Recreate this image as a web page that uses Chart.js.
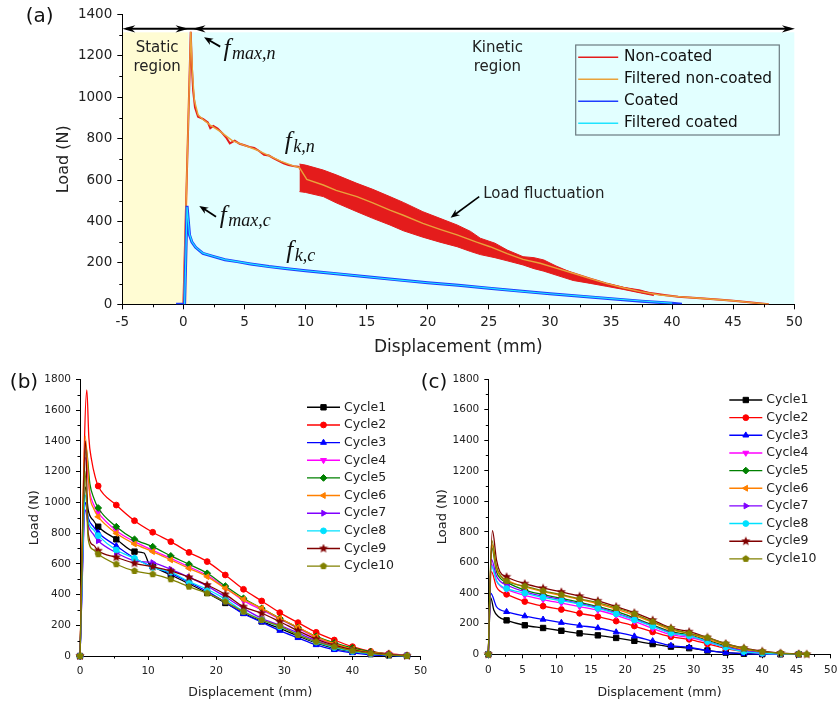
<!DOCTYPE html>
<html><head><meta charset="utf-8">
<script src="https://cdn.jsdelivr.net/npm/chart.js@4.4.1/dist/chart.umd.min.js"></script>
<style>
html,body{margin:0;padding:0;background:#fff;overflow:hidden;width:837px;height:704px;position:relative;}
canvas{position:absolute;}
#ca{left:0;top:0;} #cb{left:0;top:340px;} #cc{left:420px;top:340px;}
</style></head><body>
<canvas id="ca" width="837" height="362"></canvas>
<canvas id="cb" width="432" height="364"></canvas>
<canvas id="cc" width="430" height="364"></canvas>
<script>
// ================= DATA =================
// ---- Panel (a) ----
const aXTicks = [-5, 0, 5, 10, 15, 20, 25, 30, 35, 40, 45, 50];
const aYTicks = [0, 200, 400, 600, 800, 1000, 1200, 1400];
const aLegendLabels = ['Non-coated', 'Filtered non-coated', 'Coated', 'Filtered coated'];

const aNonCoatedX = [0, 0.6, 0.7, 0.8, 0.95, 1.2, 1.6, 2.0, 2.2, 2.45, 2.8, 3.2, 3.5, 3.8, 4.2, 4.6, 5.0, 5.4, 5.8, 6.2, 6.6, 7.0, 7.4, 7.8, 8.2, 8.6, 9.0, 9.4, 9.5, 10.1, 11.45, 12.5, 14.2, 15.5, 16.9, 18, 19.6, 21, 22.4, 24, 25.1, 26.5, 27.8, 29.2, 30.5, 31.9, 33.3, 34.6, 36, 37.4, 38.5, 39.5, 40.5, 42.3, 44, 45, 46.5, 47.9];
const aNonCoatedY = [0, 1316, 1140, 1030, 950, 905, 895, 878, 850, 861, 848, 825, 805, 777, 790, 775, 768, 760, 755, 740, 722, 718, 705, 692, 681, 672, 667, 664, 660, 603, 576, 550, 520, 490, 455, 430, 391, 362, 335, 300, 278, 245, 217, 198, 175, 150, 124, 101, 80, 61, 52, 44, 37, 29, 22, 17, 9, 0];

const aFilteredNonCoatedX = [0, 0.6, 0.75, 0.9, 1.2, 1.6, 2.2, 3.0, 4.0, 5.0, 6.0, 7.0, 8.0, 9.0, 9.5, 10.1, 11.45, 12.5, 14.2, 15.5, 16.9, 18, 19.6, 21, 22.4, 24, 25.1, 26.5, 27.8, 29.2, 30.5, 31.9, 33.3, 34.6, 36, 37.4, 39, 40.5, 42.3, 45, 46.5, 47.9];
const aFilteredNonCoatedY = [0, 1316, 1110, 985, 915, 892, 865, 835, 790, 767, 745, 718, 690, 668, 660, 603, 576, 550, 520, 490, 455, 430, 391, 362, 335, 300, 278, 245, 217, 198, 175, 150, 124, 101, 80, 61, 45, 37, 29, 17, 8, 0];

// load fluctuation envelope of the non-coated signal
const aBandX = [9.5, 10, 11.45, 12.5, 14.2, 15.5, 16.9, 18, 19.6, 21, 22.4, 23.5, 24.3, 25.5, 26.5, 27.8, 28.7, 29.5, 30.5, 31.9, 33.3, 34.6, 36, 37.4, 38.5];
const aBandUpper = [677, 672, 648, 625, 584, 555, 520, 492, 447, 415, 383, 352, 319, 295, 262, 230, 225, 214, 185, 150, 122, 101, 82, 69, 50];
const aBandLower = [544, 540, 520, 490, 447, 415, 383, 355, 324, 300, 278, 255, 240, 225, 210, 190, 172, 160, 141, 115, 101, 87, 72, 55, 42];

const aCoatedX = [-0.6, 0.1, 0.3, 0.5, 0.7, 1.0, 1.6, 2.5, 3.4, 4.4, 5.5, 7, 8.5, 10, 12.5, 15, 17.5, 20, 22.5, 25, 27.5, 30, 32.5, 35, 37.5, 40, 40.8];
const aCoatedY = [0, 0, 475, 335, 300, 275, 246, 230, 215, 206, 195, 182, 172, 162, 148, 133, 118, 104, 92, 78, 64, 51, 39, 27, 15, 5, 0];

const aFilteredCoatedX = [0.1, 0.3, 0.5, 0.7, 1.0, 1.6, 2.5, 3.4, 4.4, 5.5, 7, 8.5, 10, 12.5, 15, 17.5, 20, 22.5, 25, 27.5, 30, 32.5, 35, 37.5, 40];
const aFilteredCoatedY = [0, 470, 338, 302, 276, 247, 231, 216, 206, 195, 182, 172, 162, 148, 133, 118, 104, 92, 78, 64, 51, 39, 27, 16, 6];

// ---- Panels (b) and (c) ----
const cycleNames = ['Cycle1', 'Cycle2', 'Cycle3', 'Cycle4', 'Cycle5', 'Cycle6', 'Cycle7', 'Cycle8', 'Cycle9', 'Cycle10'];
const loadTicks = [0, 200, 400, 600, 800, 1000, 1200, 1400, 1600, 1800];
const bXTicks = [0, 10, 20, 30, 40, 50];
const cXTicks = [0, 5, 10, 15, 20, 25, 30, 35, 40, 45, 50];

// displacement of the plotted markers
const bGridX = [0, 2.67, 5.33, 8, 10.67, 13.33, 16, 18.67, 21.33, 24, 26.67, 29.33, 32, 34.67, 37.33, 40, 42.67, 45.33, 48];
const cGridX = [0, 2.67, 5.33, 8, 10.67, 13.33, 16, 18.67, 21.33, 24, 26.67, 29.33, 32, 34.67, 37.33, 40, 42.67, 45.33, 46.5];

// (b) non-coated cycles: loads at the marker positions
const bCycle1 = [0, 841, 759, 679, 585, 527, 470, 410, 345, 280, 225, 180, 130, 85, 50, 28, 12, 5, 1];
const bCycle2 = [0, 1106, 982, 880, 805, 744, 674, 614, 527, 434, 358, 282, 217, 154, 104, 61, 30, 15, 4];
const bCycle3 = [0, 802, 716, 636, 581, 538, 480, 420, 350, 275, 220, 165, 118, 72, 40, 20, 8, 3, 0];
const bCycle4 = [0, 932, 815, 744, 688, 635, 580, 525, 445, 360, 300, 240, 180, 120, 78, 45, 25, 12, 2];
const bCycle5 = [0, 963, 841, 759, 711, 651, 597, 538, 455, 375, 310, 245, 185, 128, 85, 52, 28, 12, 3];
const bCycle6 = [0, 906, 798, 729, 679, 625, 570, 516, 440, 369, 310, 245, 187, 125, 80, 45, 25, 12, 2];
const bCycle7 = [0, 750, 672, 620, 607, 564, 512, 455, 385, 310, 245, 200, 150, 100, 62, 35, 18, 8, 2];
const bCycle8 = [0, 783, 690, 636, 576, 545, 484, 434, 370, 290, 235, 190, 140, 90, 55, 30, 15, 6, 1];
const bCycle9 = [0, 685, 642, 603, 581, 553, 512, 462, 401, 321, 278, 223, 165, 110, 70, 40, 20, 10, 1];
const bCycle10 = [0, 662, 597, 553, 532, 499, 451, 408, 354, 288, 234, 195, 137, 93, 61, 35, 17, 7, 0];
// (b) extra readings between markers (peak and fast drop) [displacement, load]
const bExtra1 = [[0.8, 1100], [1.2, 950], [2.0, 880], [9.4, 670], [10.1, 603]];
const bExtra2 = [[1.0, 1731], [1.3, 1420], [1.7, 1275], [2.2, 1170]];
const bExtra3 = [[0.8, 1000], [1.2, 900], [2.0, 840]];
const bExtra4 = [[0.8, 1290], [1.45, 1060], [2.0, 985]];
const bExtra5 = [[0.87, 1360], [1.45, 1120], [2.0, 1030]];
const bExtra6 = [[0.75, 1430], [1.45, 1040], [2.0, 960]];
const bExtra7 = [[0.8, 950], [1.2, 850], [2.0, 790]];
const bExtra8 = [[0.8, 1050], [1.2, 880], [2.0, 820]];
const bExtra9 = [[0.8, 1400], [1.2, 800], [2.0, 720]];
const bExtra10 = [[0.75, 1200], [1.2, 760], [2.0, 690]];

// (c) coated cycles
const cCycle1 = [0, 222, 190, 172, 154, 137, 124, 107, 88, 67, 50, 40, 25, 11, 4, 1, 0, 0, null];
const cCycle2 = [0, 392, 345, 315, 293, 268, 246, 217, 185, 146, 115, 98, 68, 39, 17, 7, 2, 0, null];
const cCycle3 = [0, 278, 250, 228, 207, 188, 172, 145, 118, 87, 57, 46, 24, 11, 4, 1, 0, 0, null];
const cCycle4 = [0, 425, 385, 358, 335, 312, 288, 255, 215, 170, 128, 110, 80, 45, 20, 8, 3, 1, null];
const cCycle5 = [0, 470, 420, 390, 365, 340, 312, 280, 238, 192, 148, 128, 92, 56, 28, 12, 5, 1, null];
const cCycle6 = [0, 485, 440, 410, 385, 358, 330, 295, 255, 208, 160, 136, 100, 62, 32, 15, 6, 2, null];
const cCycle7 = [0, 453, 408, 380, 358, 332, 305, 270, 230, 185, 140, 120, 85, 48, 22, 10, 4, 1, null];
const cCycle8 = [0, 430, 400, 372, 350, 327, 300, 265, 225, 183, 138, 120, 83, 46, 17, 7, 3, 1, null];
const cCycle9 = [0, 507, 462, 432, 408, 380, 350, 312, 272, 224, 172, 148, 110, 70, 40, 20, 8, 3, 0];
const cCycle10 = [0, 479, 445, 415, 390, 362, 338, 303, 265, 213, 168, 137, 109, 68, 39, 17, 7, 2, 0];
const cExtra1 = [[0.35, 370], [0.8, 290], [1.5, 245]];
const cExtra2 = [[0.45, 540], [1.2, 440], [1.8, 410]];
const cExtra3 = [[0.35, 400], [1.2, 311], [1.8, 290]];
const cExtra4 = [[0.45, 590], [1.2, 480], [1.8, 445]];
const cExtra5 = [[0.5, 700], [1.2, 540], [1.8, 495]];
const cExtra6 = [[0.5, 720], [1.2, 560], [1.8, 510]];
const cExtra7 = [[0.45, 620], [1.2, 510], [1.8, 475]];
const cExtra8 = [[0.45, 580], [1.2, 480], [1.8, 450]];
const cExtra9 = [[0.6, 808], [1.2, 616], [1.7, 540]];
const cExtra10 = [[0.5, 747], [1.2, 575], [1.8, 515]];

// ================= STYLE =================
const SANS = '"DejaVu Sans", Verdana, sans-serif';
const SERIF = '"Liberation Serif", "Times New Roman", serif';
const RED = '#E41C1C', ORANGE = '#E9A23B', BLUE = '#1E3CFF', CYAN = '#1EE4FF';
const YELLOW_BG = '#FFFCD3', CYAN_BG = '#E2FFFF';
const cycleColors = ['#000000', '#FF0000', '#0000FF', '#FF00FF', '#008000', '#FF8000', '#8000FF', '#00E1FF', '#800000', '#808000'];

Chart.defaults.font.family = SANS;
Chart.defaults.color = '#222';

function polyMarker(color, n, star, R) {
  const c = document.createElement('canvas');
  c.width = c.height = 10;
  const g = c.getContext('2d');
  g.fillStyle = color;
  g.beginPath();
  const k = star ? n * 2 : n;
  for (let j = 0; j < k; j++) {
    const rad = (star && j % 2) ? R * 0.45 : R;
    const a = -Math.PI / 2 + j * Math.PI * 2 / k;
    g.lineTo(5 + rad * Math.cos(a), 5 + rad * Math.sin(a));
  }
  g.closePath();
  g.fill();
  return c;
}
const STAR = polyMarker(cycleColors[8], 5, true, 4.8);
const PENT = polyMarker(cycleColors[9], 5, false, 3.7);
const cycleStyles = ['rect', 'circle', 'triangle', 'triangle', 'rectRot', 'triangle', 'triangle', 'circle', STAR, PENT];
const cycleRot = [0, 0, 0, 180, 0, 270, 90, 0, 0, 0];
const cycleRadius = [3.8, 2.9, 3.4, 3.4, 3.4, 3.4, 3.4, 2.9, 3, 3];

const mids = arr => arr.slice(1).map((v, i) => (v + arr[i]) / 2);
const xy = (xs, ys) => xs.map((v, i) => ({x: v, y: ys[i]}));

function buildCycle(grid, vals, extra) {
  const pts = grid.map((gx, i) => ({x: gx, y: vals[i], m: vals[i] !== null}));
  extra.forEach(p => pts.push({x: p[0], y: p[1], m: false}));
  pts.sort((a, b) => a.x - b.x);
  return pts;
}

function arrowHead(ctx, tx, ty, fx, fy, len, half) {
  const dx = tx - fx, dy = ty - fy, d = Math.hypot(dx, dy) || 1;
  const ux = dx / d, uy = dy / d, px = -uy, py = ux;
  const bx = tx - ux * len, by = ty - uy * len;
  ctx.beginPath();
  ctx.moveTo(tx, ty);
  ctx.lineTo(bx + px * half, by + py * half);
  ctx.lineTo(tx - ux * len * 0.7, ty - uy * len * 0.7);
  ctx.lineTo(bx - px * half, by - py * half);
  ctx.closePath();
  ctx.fill();
}
function arrow(ctx, fx, fy, tx, ty, len, half, lw) {
  const d = Math.hypot(tx - fx, ty - fy);
  const ex = tx - (tx - fx) / d * len * 0.6, ey = ty - (ty - fy) / d * len * 0.6;
  ctx.lineWidth = lw;
  ctx.beginPath(); ctx.moveTo(fx, fy); ctx.lineTo(ex, ey); ctx.stroke();
  arrowHead(ctx, tx, ty, fx, fy, len, half);
}

function minorTicks(chart, xMinor, yMinor, len) {
  const {ctx, scales: {x, y}} = chart;
  ctx.save();
  ctx.strokeStyle = '#000'; ctx.lineWidth = 1;
  ctx.beginPath();
  xMinor.forEach(v => { const p = Math.round(x.getPixelForValue(v)) + 0.5; ctx.moveTo(p, y.bottom); ctx.lineTo(p, y.bottom + len); });
  yMinor.forEach(v => { const p = Math.round(y.getPixelForValue(v)) + 0.5; ctx.moveTo(x.left - len, p); ctx.lineTo(x.left, p); });
  ctx.stroke();
  ctx.restore();
}

function panelLabel(ctx, text, cx, cy) {
  ctx.save();
  ctx.font = '20px ' + SANS; ctx.fillStyle = '#111';
  ctx.textAlign = 'center'; ctx.textBaseline = 'middle';
  ctx.fillText(text, cx, cy);
  ctx.restore();
}

function fLabel(ctx, px, py, sub) {
  ctx.save();
  ctx.fillStyle = '#111'; ctx.textAlign = 'left'; ctx.textBaseline = 'alphabetic';
  ctx.font = 'italic 25px ' + SERIF; ctx.fillText('f', px + 1.5, py);
  ctx.font = 'italic 18px ' + SERIF; ctx.fillText(sub, px + 10, py + 3);
  ctx.restore();
}

function axisCfg(ticksArr, min, max, size, pad, tl, fit, title, tFont, tPad) {
  return {
    type: 'linear', min: min, max: max,
    afterBuildTicks: s => { s.ticks = ticksArr.map(v => ({value: v})); },
    ticks: {font: {size: size}, color: '#222', padding: pad, autoSkip: false, maxRotation: 0, minRotation: 0, callback: v => String(v)},
    grid: {display: true, drawOnChartArea: false, drawTicks: true, tickLength: tl, color: '#000', tickColor: '#000', lineWidth: 1},
    border: {display: true, color: '#000', width: 1},
    title: {display: true, text: title, font: {size: tFont}, color: '#222', padding: tPad},
    afterFit: fit
  };
}

// ================= PANEL (a) =================
const panelAPlugin = {
  id: 'panelA',
  beforeDraw(chart) {
    const {ctx, scales: {x, y}} = chart;
    const top = y.getPixelForValue(1313), bot = y.getPixelForValue(0);
    const x0 = x.getPixelForValue(-5), xm = x.getPixelForValue(0.42), x1 = x.getPixelForValue(50);
    ctx.save();
    ctx.fillStyle = YELLOW_BG; ctx.fillRect(x0, top, xm - x0, bot - top);
    ctx.fillStyle = CYAN_BG; ctx.fillRect(xm, top, x1 - xm, bot - top);
    ctx.restore();
  },
  afterDraw(chart) {
    const {ctx, scales: {x, y}, chartArea: ca} = chart;
    const X = v => x.getPixelForValue(v), Y = v => y.getPixelForValue(v);
    minorTicks(chart, mids(aXTicks), mids(aYTicks), 3);
    ctx.save();
    ctx.strokeStyle = '#000'; ctx.fillStyle = '#000';
    // region arrows
    const ay = Y(1330);
    ctx.lineWidth = 2;
    ctx.beginPath(); ctx.moveTo(X(-5) + 4, ay); ctx.lineTo(X(50) - 4, ay); ctx.stroke();
    arrowHead(ctx, X(-5), ay, X(0), ay, 13, 3.6);
    arrowHead(ctx, X(0.42), ay, X(-5), ay, 13, 3.6);
    arrowHead(ctx, X(0.75), ay, X(50), ay, 13, 3.6);
    arrowHead(ctx, X(50.05), ay, X(0), ay, 13, 3.6);
    // annotation arrows
    arrow(ctx, X(3.01), Y(1244), X(1.69), Y(1289), 9, 3.6, 1.8);
    arrow(ctx, X(2.67), Y(423), X(1.30), Y(475), 9, 3.6, 1.8);
    arrow(ctx, X(24.21), Y(520), X(21.87), Y(418), 9, 3.6, 1.6);
    // region texts
    ctx.fillStyle = '#222'; ctx.font = '15px ' + SANS;
    ctx.textAlign = 'center'; ctx.textBaseline = 'middle';
    ctx.fillText('Static', X(-2.15), Y(1239));
    ctx.fillText('region', X(-2.15), Y(1147));
    ctx.fillText('Kinetic', X(25.7), Y(1239));
    ctx.fillText('region', X(25.7), Y(1147));
    ctx.textAlign = 'left';
    ctx.fillText('Load fluctuation', X(24.54), Y(531));
    ctx.restore();
    // force labels
    fLabel(ctx, X(3.16), Y(1199), 'max,n');
    fLabel(ctx, X(2.86), Y(394), 'max,c');
    fLabel(ctx, X(8.18), Y(748), 'k,n');
    fLabel(ctx, X(8.3), Y(225), 'k,c');
    // legend
    ctx.save();
    const bx = ca.right - 218.6, by = ca.top + 30.7;
    ctx.strokeStyle = '#6B7B80'; ctx.lineWidth = 1.2;
    ctx.strokeRect(bx, by, 203.6, 90);
    const cols = [RED, ORANGE, BLUE, CYAN];
    aLegendLabels.forEach((t, i) => {
      const ry = by + 12.3 + 22 * i;
      ctx.strokeStyle = cols[i]; ctx.lineWidth = 1.6;
      ctx.beginPath(); ctx.moveTo(bx + 2.5, ry); ctx.lineTo(bx + 42.5, ry); ctx.stroke();
      ctx.fillStyle = '#111'; ctx.font = '15.3px ' + SANS;
      ctx.textAlign = 'left'; ctx.textBaseline = 'middle';
      ctx.fillText(t, bx + 48.3, ry);
    });
    ctx.restore();
    panelLabel(ctx, '(a)', 39.7, 17);
  }
};

new Chart(document.getElementById('ca'), {
  type: 'line',
  data: {
    datasets: [
      {label: 'Filtered coated', data: xy(aFilteredCoatedX, aFilteredCoatedY), borderColor: CYAN, borderWidth: 1.2, pointRadius: 0, fill: false},
      {label: 'Coated', data: xy(aCoatedX, aCoatedY), borderColor: BLUE, borderWidth: 3, pointRadius: 0, fill: false},
      {label: 'Filtered non-coated', data: xy(aFilteredNonCoatedX, aFilteredNonCoatedY), borderColor: ORANGE, borderWidth: 1.4, pointRadius: 0, fill: false},
      {label: 'Non-coated fluctuation (upper)', data: xy(aBandX, aBandUpper), borderColor: RED, borderWidth: 1, pointRadius: 0, fill: false},
      {label: 'Non-coated fluctuation (lower)', data: xy(aBandX, aBandLower), borderColor: RED, borderWidth: 1, pointRadius: 0, fill: 3, backgroundColor: RED},
      {label: 'Non-coated', data: xy(aNonCoatedX, aNonCoatedY), borderColor: RED, borderWidth: 2, pointRadius: 0, fill: false}
    ]
  },
  options: {
    responsive: false, animation: false, devicePixelRatio: 1, events: [],
    layout: {padding: {left: 0, top: 14.3, right: 42.7, bottom: 0}},
    plugins: {legend: {display: false}, tooltip: {enabled: false}},
    scales: {
      x: axisCfg(aXTicks, -5, 50, 13.5, 5, 5, s => { s.height = 57.7; }, 'Displacement (mm)', 17, {top: 0, bottom: 3.8}),
      y: axisCfg(aYTicks, 0, 1400, 13.5, 5, 5, s => { s.width = 122.3; }, 'Load (N)', 16, {top: 54.4, bottom: 0})
    }
  },
  plugins: [panelAPlugin]
});

// ================= PANELS (b), (c) =================
function cycleDatasets(grid, cycles, extras) {
  return cycles.map((vals, i) => ({
    label: cycleNames[i],
    data: buildCycle(grid, vals, extras[i]),
    borderColor: cycleColors[i], backgroundColor: cycleColors[i],
    pointBackgroundColor: cycleColors[i], pointBorderColor: cycleColors[i],
    borderWidth: 1.3, pointBorderWidth: 1,
    pointStyle: cycleStyles[i], pointRotation: cycleRot[i],
    pointRadius: c => (c.raw && c.raw.m) ? cycleRadius[i] : 0,
    cubicInterpolationMode: 'monotone', clip: 8, order: 10 - i, fill: false
  }));
}

function cyclePlugin(label, lcx, lcy, xMinor, legX, legY) {
  return {
    id: 'cyc' + label,
    afterDraw(chart) {
      const {ctx, chartArea: ca} = chart;
      minorTicks(chart, xMinor, mids(loadTicks), 2.5);
      ctx.save();
      chart.data.datasets.forEach((ds, i) => {
        const ry = ca.top + legY + 17.65 * i;
        const lx = ca.left + legX;
        ctx.strokeStyle = cycleColors[i]; ctx.lineWidth = 1.4;
        ctx.beginPath(); ctx.moveTo(lx, ry); ctx.lineTo(lx + 33, ry); ctx.stroke();
        ctx.fillStyle = cycleColors[i]; ctx.lineWidth = 1;
        if (Chart.helpers && Chart.helpers.drawPoint) {
          Chart.helpers.drawPoint(ctx, {pointStyle: cycleStyles[i], rotation: cycleRot[i], radius: cycleRadius[i], borderWidth: 1}, lx + 16.5, ry);
        } else {
          ctx.fillRect(lx + 14, ry - 2.5, 5, 5);
        }
        ctx.fillStyle = '#222'; ctx.font = '12.5px ' + SANS;
        ctx.textAlign = 'left'; ctx.textBaseline = 'middle';
        ctx.fillText(ds.label, lx + 37, ry);
      });
      ctx.restore();
      panelLabel(ctx, label, lcx, lcy);
    }
  };
}

new Chart(document.getElementById('cb'), {
  type: 'line',
  data: {datasets: cycleDatasets(bGridX,
    [bCycle1, bCycle2, bCycle3, bCycle4, bCycle5, bCycle6, bCycle7, bCycle8, bCycle9, bCycle10],
    [bExtra1, bExtra2, bExtra3, bExtra4, bExtra5, bExtra6, bExtra7, bExtra8, bExtra9, bExtra10])},
  options: {
    responsive: false, animation: false, devicePixelRatio: 1, events: [],
    layout: {padding: {left: 0, top: 39.3, right: 8, bottom: 0}},
    plugins: {legend: {display: false}, tooltip: {enabled: false}},
    scales: {
      x: axisCfg(bXTicks, 0, 50, 10.5, 4.7, 4, s => { s.height = 48; }, 'Displacement (mm)', 12.5, {top: 0, bottom: 4.2}),
      y: axisCfg(loadTicks, 0, 1800, 10.5, 5, 4, s => { s.width = 80; }, 'Load (N)', 13, {top: 26.5, bottom: 0})
    }
  },
  plugins: [cyclePlugin('(b)', 24, 43, mids(bXTicks), 227, 28)]
});

new Chart(document.getElementById('cc'), {
  type: 'line',
  data: {datasets: cycleDatasets(cGridX,
    [cCycle1, cCycle2, cCycle3, cCycle4, cCycle5, cCycle6, cCycle7, cCycle8, cCycle9, cCycle10],
    [cExtra1, cExtra2, cExtra3, cExtra4, cExtra5, cExtra6, cExtra7, cExtra8, cExtra9, cExtra10])},
  options: {
    responsive: false, animation: false, devicePixelRatio: 1, events: [],
    layout: {padding: {left: 0, top: 39, right: 19.3, bottom: 0}},
    plugins: {legend: {display: false}, tooltip: {enabled: false}},
    scales: {
      x: axisCfg(cXTicks, 0, 50, 10.5, 5.4, 4, s => { s.height = 49.7; }, 'Displacement (mm)', 12.5, {top: 0, bottom: 4.2}),
      y: axisCfg(loadTicks, 0, 1800, 10.5, 5, 4, s => { s.width = 68.3; }, 'Load (N)', 13, {top: 14.9, bottom: 0})
    }
  },
  plugins: [cyclePlugin('(c)', 14, 43, mids(cXTicks), 241, 21)]
});
</script>
</body></html>
